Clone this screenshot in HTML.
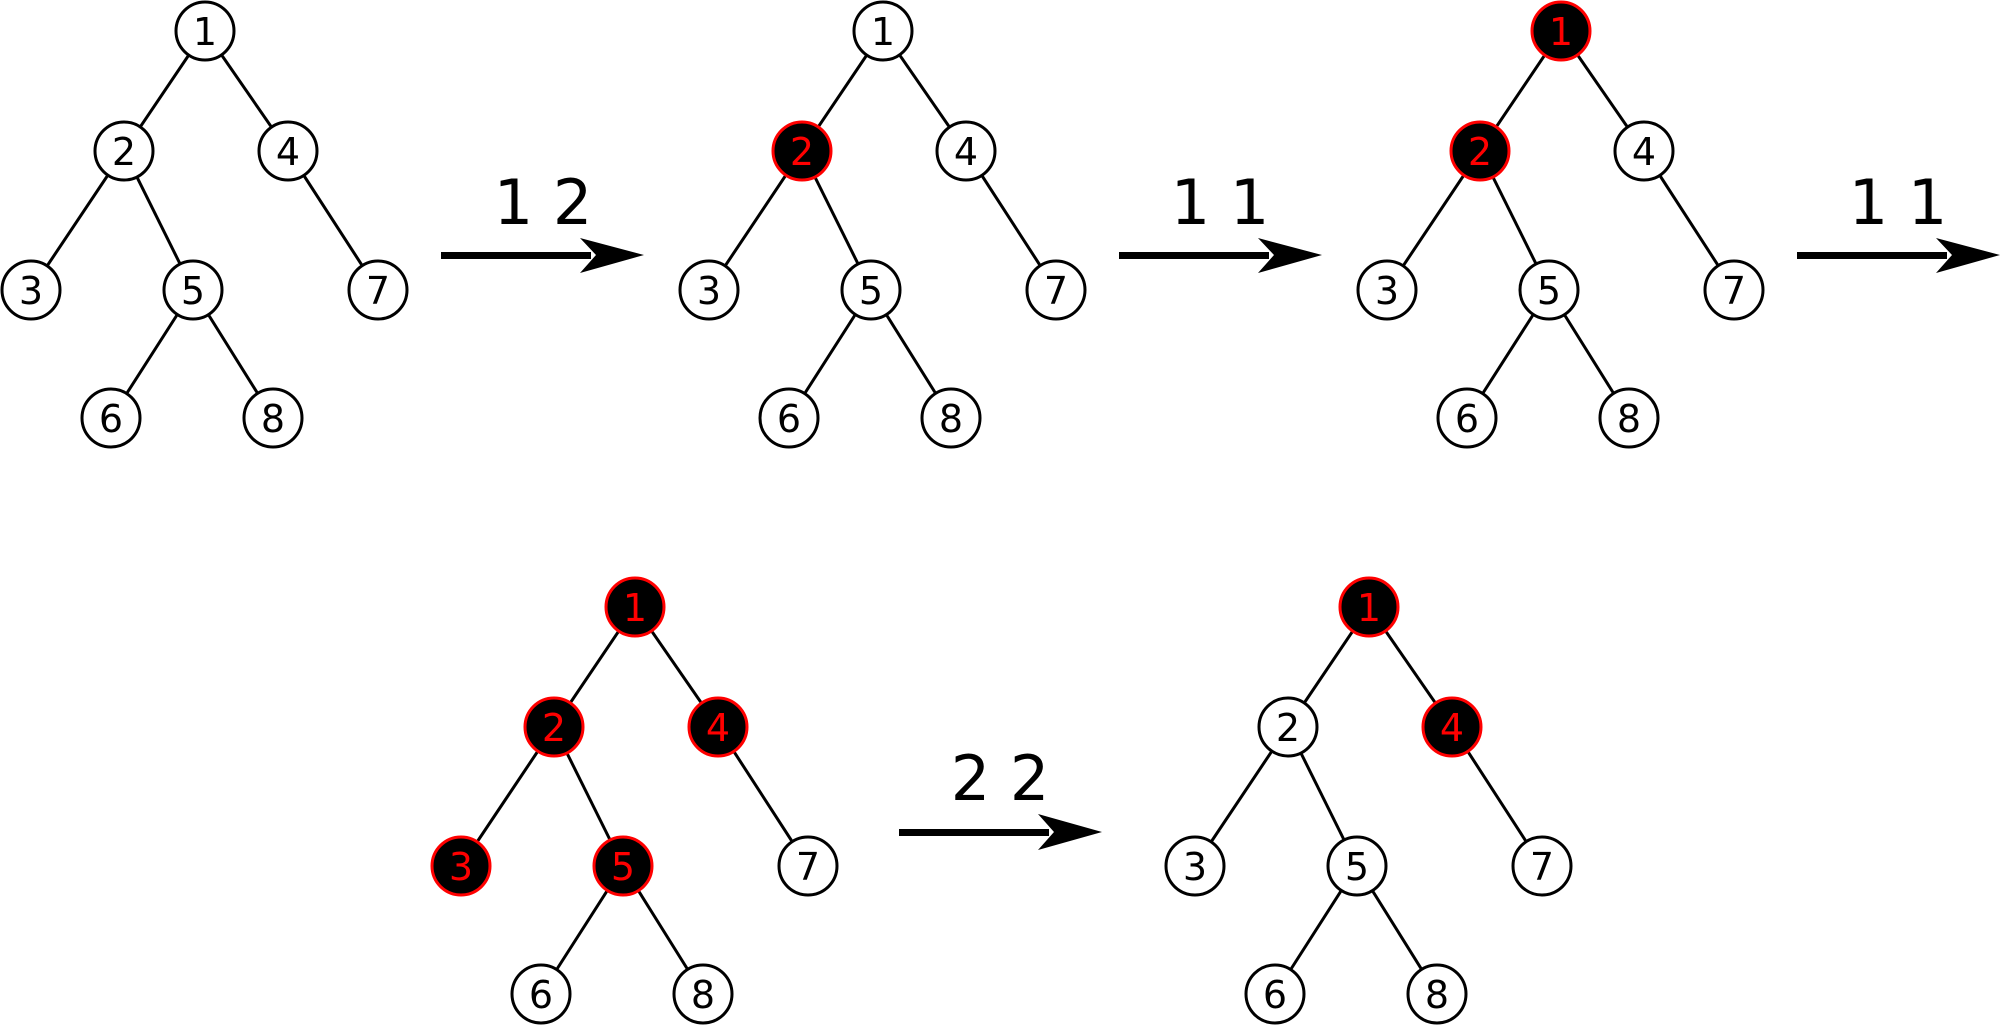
<!DOCTYPE html>
<html><head><meta charset="utf-8"><style>
html,body{margin:0;padding:0;background:#fff;}
svg{display:block;}
text{font-family:"DejaVu Sans","Liberation Sans",sans-serif;}
.n{fill:#fff;stroke:#000;stroke-width:3;}
.r{fill:#000;stroke:#f00;stroke-width:3;}
.t{font-size:38px;text-anchor:middle;fill:#000;}
.rt{font-size:38px;text-anchor:middle;fill:#f00;}
.e{stroke:#000;stroke-width:3;}
.lbl{font-size:62px;text-anchor:middle;fill:#000;}
</style></head><body>
<svg width="2000" height="1026" viewBox="0 0 2000 1026" xmlns="http://www.w3.org/2000/svg">
<defs>
<g id="edges">
<line class="e" x1="205" y1="31" x2="124" y2="151"/>
<line class="e" x1="205" y1="31" x2="288" y2="151"/>
<line class="e" x1="124" y1="151" x2="31" y2="290"/>
<line class="e" x1="124" y1="151" x2="193" y2="290"/>
<line class="e" x1="288" y1="151" x2="378" y2="290"/>
<line class="e" x1="193" y1="290" x2="111" y2="418"/>
<line class="e" x1="193" y1="290" x2="273" y2="418"/>
</g>
</defs>

<!-- Tree A -->
<g transform="translate(0,0)">
<use href="#edges"/>
<circle class="n" cx="205" cy="31" r="29"/><text class="t" x="205" y="45">1</text>
<circle class="n" cx="124" cy="151" r="29"/><text class="t" x="124" y="165">2</text>
<circle class="n" cx="288" cy="151" r="29"/><text class="t" x="288" y="165">4</text>
<circle class="n" cx="31" cy="290" r="29"/><text class="t" x="31" y="304">3</text>
<circle class="n" cx="193" cy="290" r="29"/><text class="t" x="193" y="304">5</text>
<circle class="n" cx="378" cy="290" r="29"/><text class="t" x="378" y="304">7</text>
<circle class="n" cx="111" cy="418" r="29"/><text class="t" x="111" y="432">6</text>
<circle class="n" cx="273" cy="418" r="29"/><text class="t" x="273" y="432">8</text>
</g>

<!-- Tree B -->
<g transform="translate(678,0)">
<use href="#edges"/>
<circle class="n" cx="205" cy="31" r="29"/><text class="t" x="205" y="45">1</text>
<circle class="r" cx="124" cy="151" r="29"/><text class="rt" x="124" y="165">2</text>
<circle class="n" cx="288" cy="151" r="29"/><text class="t" x="288" y="165">4</text>
<circle class="n" cx="31" cy="290" r="29"/><text class="t" x="31" y="304">3</text>
<circle class="n" cx="193" cy="290" r="29"/><text class="t" x="193" y="304">5</text>
<circle class="n" cx="378" cy="290" r="29"/><text class="t" x="378" y="304">7</text>
<circle class="n" cx="111" cy="418" r="29"/><text class="t" x="111" y="432">6</text>
<circle class="n" cx="273" cy="418" r="29"/><text class="t" x="273" y="432">8</text>
</g>

<!-- Tree C -->
<g transform="translate(1356,0)">
<use href="#edges"/>
<circle class="r" cx="205" cy="31" r="29"/><text class="rt" x="205" y="45">1</text>
<circle class="r" cx="124" cy="151" r="29"/><text class="rt" x="124" y="165">2</text>
<circle class="n" cx="288" cy="151" r="29"/><text class="t" x="288" y="165">4</text>
<circle class="n" cx="31" cy="290" r="29"/><text class="t" x="31" y="304">3</text>
<circle class="n" cx="193" cy="290" r="29"/><text class="t" x="193" y="304">5</text>
<circle class="n" cx="378" cy="290" r="29"/><text class="t" x="378" y="304">7</text>
<circle class="n" cx="111" cy="418" r="29"/><text class="t" x="111" y="432">6</text>
<circle class="n" cx="273" cy="418" r="29"/><text class="t" x="273" y="432">8</text>
</g>

<!-- Tree D -->
<g transform="translate(430,576)">
<use href="#edges"/>
<circle class="r" cx="205" cy="31" r="29"/><text class="rt" x="205" y="45">1</text>
<circle class="r" cx="124" cy="151" r="29"/><text class="rt" x="124" y="165">2</text>
<circle class="r" cx="288" cy="151" r="29"/><text class="rt" x="288" y="165">4</text>
<circle class="r" cx="31" cy="290" r="29"/><text class="rt" x="31" y="304">3</text>
<circle class="r" cx="193" cy="290" r="29"/><text class="rt" x="193" y="304">5</text>
<circle class="n" cx="378" cy="290" r="29"/><text class="t" x="378" y="304">7</text>
<circle class="n" cx="111" cy="418" r="29"/><text class="t" x="111" y="432">6</text>
<circle class="n" cx="273" cy="418" r="29"/><text class="t" x="273" y="432">8</text>
</g>

<!-- Tree E -->
<g transform="translate(1164,576)">
<use href="#edges"/>
<circle class="r" cx="205" cy="31" r="29"/><text class="rt" x="205" y="45">1</text>
<circle class="n" cx="124" cy="151" r="29"/><text class="t" x="124" y="165">2</text>
<circle class="r" cx="288" cy="151" r="29"/><text class="rt" x="288" y="165">4</text>
<circle class="n" cx="31" cy="290" r="29"/><text class="t" x="31" y="304">3</text>
<circle class="n" cx="193" cy="290" r="29"/><text class="t" x="193" y="304">5</text>
<circle class="n" cx="378" cy="290" r="29"/><text class="t" x="378" y="304">7</text>
<circle class="n" cx="111" cy="418" r="29"/><text class="t" x="111" y="432">6</text>
<circle class="n" cx="273" cy="418" r="29"/><text class="t" x="273" y="432">8</text>
</g>

<!-- Arrows -->
<g>
<rect x="441" y="252" width="150" height="7" fill="#000"/>
<path d="M580,238 L644,255 L580,273 L596,255 Z" fill="#000"/>
<text class="lbl" x="543" y="224">1 2</text>
</g>
<g>
<rect x="1119" y="252" width="150" height="7" fill="#000"/>
<path d="M1258,238 L1322,255 L1258,273 L1274,255 Z" fill="#000"/>
<text class="lbl" x="1220" y="224">1 1</text>
</g>
<g>
<rect x="1797" y="252" width="150" height="7" fill="#000"/>
<path d="M1936,238 L2000,255 L1936,273 L1952,255 Z" fill="#000"/>
<text class="lbl" x="1898" y="224">1 1</text>
</g>
<g>
<rect x="899" y="829" width="150" height="7" fill="#000"/>
<path d="M1038,814 L1102,832 L1038,850 L1054,832 Z" fill="#000"/>
<text class="lbl" x="1000" y="800">2 2</text>
</g>
</svg>
</body></html>
